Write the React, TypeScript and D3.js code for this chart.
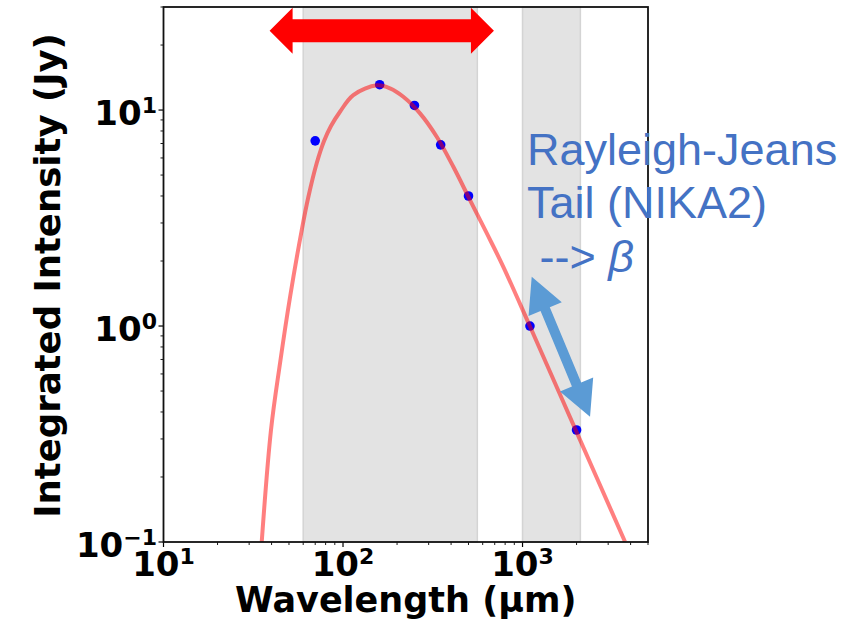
import React from 'react';
import * as d3 from 'd3';

// Fitted SED curve (wavelength in µm, flux in Jy)
const curveLambda = [35.25, 39.7, 44.6, 50.7, 58.9, 64.1, 71.4, 78.4, 85.7, 96.2, 114.1, 154.6, 182.7, 216.7, 268.5, 332.7, 411.7, 509.9, 631.9, 781.6, 1101, 1987, 3724];
const curveFlux = [0.1, 0.33, 0.674, 1.362, 2.783, 3.956, 5.682, 7.186, 8.43, 9.82, 11.73, 13.01, 12.6, 11.52, 9.65, 7.52, 5.46, 3.83, 2.69, 1.88, 0.995, 0.327, 0.1003];

// Measured points
const pointLambda = [70, 160, 250, 350, 500, 1100, 2000];
const pointFlux = [7.2, 13.1, 10.5, 6.9, 4.0, 1.0, 0.33];

// Shaded wavelength bands (µm)
const bandStart = [60, 1000];
const bandEnd = [560, 2100];

const xTickExps = [1, 2, 3];
const yTickExps = [-1, 0, 1];
const xDomain = [10, 5000];
const yDomain = [0.1, 30];

const xLabel = 'Wavelength (μm)';
const yLabel = 'Integrated Intensity (Jy)';
const noteLines = ['Rayleigh-Jeans', 'Tail (NIKA2)'];

// annotation arrows in data coordinates
const redArrow = { from: [39, 23.3], to: [693, 23.3] };
const blueArrow = { from: [1125, 1.69], to: [2377, 0.38] };

const W = 844;
const H = 625;
const L = 163.5, R = 648, T = 7, B = 542;

function doubleArrow(x1: number, y1: number, x2: number, y2: number, sh: number, hl: number, hw: number) {
  const dx = x2 - x1, dy = y2 - y1;
  const len = Math.hypot(dx, dy);
  const ux = dx / len, uy = dy / len;
  const px = -uy, py = ux;
  const p = (along: number, side: number) => [x1 + ux * along + px * side, y1 + uy * along + py * side];
  const pts = [
    p(0, 0),
    p(hl, hw),
    p(hl, sh),
    p(len - hl, sh),
    p(len - hl, hw),
    p(len, 0),
    p(len - hl, -hw),
    p(len - hl, -sh),
    p(hl, -sh),
    p(hl, -hw),
  ];
  return pts.map((q) => q.join(',')).join(' ');
}

export default function App() {
  const x = d3.scaleLog().domain(xDomain).range([L, R]);
  const y = d3.scaleLog().domain(yDomain).range([B, T]);

  const line = d3
    .line<number>()
    .x((_, i) => x(curveLambda[i]))
    .y((_, i) => y(curveFlux[i]))
    .curve(d3.curveCatmullRom.alpha(0.5));

  const xMinor: number[] = [];
  [10, 100, 1000].forEach((d) => {
    for (let k = 2; k <= 9; k++) if (d * k <= xDomain[1]) xMinor.push(d * k);
  });
  const yMinor: number[] = [];
  [0.1, 1, 10].forEach((d) => {
    for (let k = 2; k <= 9; k++) if (d * k <= yDomain[1] + 1e-9) yMinor.push(d * k);
  });

  const font = "'DejaVu Sans', sans-serif";
  const noteFont = "'Liberation Sans', Arial, sans-serif";
  const noteColor = '#4472c4';

  return (
    <svg width={W} height={H} style={{ position: 'absolute', left: 0, top: 0 }} xmlns="http://www.w3.org/2000/svg">
      <defs>
        <clipPath id="plotClip">
          <rect x={L} y={T} width={R - L} height={B - T} />
        </clipPath>
      </defs>
      <rect x={0} y={0} width={W} height={H} fill="#fff" />

      {bandStart.map((s, i) => (
        <rect key={'b' + i} x={x(s)} y={T} width={x(bandEnd[i]) - x(s)} height={B - T} fill="#e3e3e3" stroke="#d4d4d4" strokeWidth={1.5} />
      ))}

      {pointLambda.map((l, i) => (
        <circle key={'p' + i} cx={x(l)} cy={y(pointFlux[i])} r={4.8} fill="#0000ff" />
      ))}

      <path d={line(curveLambda) || ''} fill="none" stroke="#ff0000" strokeOpacity={0.5} strokeWidth={4} clipPath="url(#plotClip)" />

      {/* ticks */}
      {xTickExps.map((e) => (
        <line key={'xt' + e} x1={x(Math.pow(10, e))} x2={x(Math.pow(10, e))} y1={B} y2={B + 5} stroke="#000" strokeWidth={1.2} />
      ))}
      {xMinor.map((v) => (
        <line key={'xm' + v} x1={x(v)} x2={x(v)} y1={B} y2={B + 3} stroke="#000" strokeWidth={0.9} />
      ))}
      {yTickExps.map((e) => (
        <line key={'yt' + e} x1={L - 5} x2={L} y1={y(Math.pow(10, e))} y2={y(Math.pow(10, e))} stroke="#000" strokeWidth={1.2} />
      ))}
      {yMinor.map((v) => (
        <line key={'ym' + v} x1={L - 3} x2={L} y1={y(v)} y2={y(v)} stroke="#000" strokeWidth={0.9} />
      ))}

      <rect x={L} y={T} width={R - L} height={B - T} fill="none" stroke="#111" strokeWidth={1.8} />

      {/* tick labels */}
      {xTickExps.map((e) => (
        <text key={'xl' + e} x={x(Math.pow(10, e))} y={576} textAnchor="middle" fontFamily={font} fontWeight="bold" fontSize={34} fill="#000">
          <tspan>10</tspan>
          <tspan dy={-12} fontSize={22}>{e < 0 ? '\u2212' + Math.abs(e) : String(e)}</tspan>
        </text>
      ))}
      {yTickExps.map((e) => (
        <text key={'yl' + e} x={157} y={y(Math.pow(10, e)) + 15} textAnchor="end" fontFamily={font} fontWeight="bold" fontSize={34} fill="#000">
          <tspan>10</tspan>
          <tspan dy={-12} fontSize={22}>{e < 0 ? '\u2212' + Math.abs(e) : String(e)}</tspan>
        </text>
      ))}

      {/* axis labels */}
      <text x={(L + R) / 2} y={612} textAnchor="middle" fontFamily={font} fontWeight="bold" fontSize={35} fill="#000">
        {xLabel}
      </text>
      <text transform={`translate(60,${(T + B) / 2 + 1}) rotate(-90)`} textAnchor="middle" fontFamily={font} fontWeight="bold" fontSize={35.5} fill="#000">
        {yLabel}
      </text>

      {/* annotations */}
      <polygon
        points={doubleArrow(x(redArrow.from[0]), y(redArrow.from[1]), x(redArrow.to[0]), y(redArrow.to[1]), 11.5, 23, 23)}
        fill="#ff0000"
      />
      <polygon
        points={doubleArrow(x(blueArrow.from[0]), y(blueArrow.from[1]), x(blueArrow.to[0]), y(blueArrow.to[1]), 5, 35, 18)}
        fill="#5b9bd5"
      />
      <text x={527} y={165} fontFamily={noteFont} fontSize={45} fill={noteColor}>
        {noteLines[0]}
      </text>
      <text x={527} y={218} fontFamily={noteFont} fontSize={45} fill={noteColor}>
        {noteLines[1]}
      </text>
      <text x={527} y={272} fontFamily={noteFont} fontSize={45} fill={noteColor} xmlSpace="preserve">
        <tspan> --&gt; </tspan>
        <tspan fontStyle="italic">β</tspan>
      </text>
    </svg>
  );
}
